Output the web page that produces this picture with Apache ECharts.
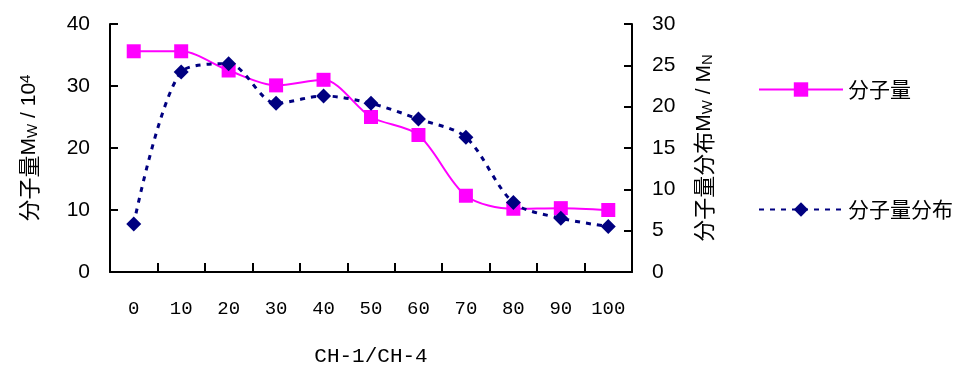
<!DOCTYPE html>
<html><head><meta charset="utf-8">
<script src="https://cdn.jsdelivr.net/npm/echarts@6/dist/echarts.min.js"></script>
<style>html,body{margin:0;padding:0;background:#fff}#c{width:973px;height:372px}</style>
</head><body><div id="c"></div>
<script>
const categories = ['0','10','20','30','40','50','60','70','80','90','100'];
const mwValues = [35.6, 35.6, 32.5, 30.1, 31.0, 25.0, 22.1, 12.3, 10.2, 10.3, 10.0];
const mwdValues = [5.8, 24.2, 25.2, 20.4, 21.3, 20.4, 18.5, 16.3, 8.4, 6.5, 5.5];
const seriesNames = ['分子量', '分子量分布'];
const xName = 'CH-1/CH-4';

const chart = echarts.init(document.getElementById('c'));
const numFont = 'Liberation Sans, Arial, sans-serif';
const cjk = 'Noto Sans CJK SC, sans-serif';
const mono = 'Liberation Mono, DejaVu Sans Mono, monospace';
chart.setOption({
  animation: false,
  backgroundColor: '#fff',
  grid: { left: 110, right: 341, top: 24, bottom: 98 },
  legend: [
    { orient: 'vertical', left: 753, top: 74, itemWidth: 84, itemHeight: 18,
      data: [seriesNames[0]],
      textStyle: { fontSize: 21, color: '#000', fontFamily: cjk } },
    { orient: 'vertical', left: 753, top: 194, itemWidth: 84, itemHeight: 18,
      data: [seriesNames[1]],
      textStyle: { fontSize: 21, color: '#000', fontFamily: cjk } }
  ],
  xAxis: {
    type: 'category', data: categories, boundaryGap: true,
    name: xName, nameLocation: 'middle', nameGap: 74,
    nameTextStyle: { fontSize: 21, color: '#000', fontFamily: mono },
    axisLine: { lineStyle: { color: '#000', width: 2 } },
    axisTick: { show: true, inside: true, length: 9, lineStyle: { color: '#000', width: 2 } },
    axisLabel: { margin: 27, fontSize: 19, color: '#000', fontFamily: mono },
    splitLine: { show: false }
  },
  yAxis: [
    { type: 'value', min: 0, max: 40, interval: 10, position: 'left',
      name: '{c|分子量}{m|M}{s|W}{m| / 10}{p|4}', nameLocation: 'middle', nameGap: 70, nameRotate: 90,
      nameTextStyle: { color: '#000', fontSize: 22, fontFamily: cjk, rich: {
        c: { fontSize: 22, fontFamily: cjk, color: '#000' },
        m: { fontSize: 21, fontFamily: numFont, color: '#000' },
        s: { fontSize: 15, fontFamily: numFont, color: '#000', verticalAlign: 'bottom' },
        p: { fontSize: 15, fontFamily: numFont, color: '#000', verticalAlign: 'top' } } },
      axisLine: { show: true, lineStyle: { color: '#000', width: 2 } },
      axisTick: { show: true, inside: true, length: 8, lineStyle: { color: '#000', width: 2 } },
      axisLabel: { margin: 20, fontSize: 21, color: '#000', fontFamily: numFont },
      splitLine: { show: false } },
    { type: 'value', min: 0, max: 30, interval: 5, position: 'right',
      name: '{c|分子量分布}{m|M}{s|W}{m| / M}{s|N}', nameLocation: 'middle', nameGap: 61, nameRotate: 90,
      nameTextStyle: { color: '#000', fontSize: 22, fontFamily: cjk, rich: {
        c: { fontSize: 22, fontFamily: cjk, color: '#000' },
        m: { fontSize: 21, fontFamily: numFont, color: '#000' },
        s: { fontSize: 15, fontFamily: numFont, color: '#000', verticalAlign: 'bottom' } } },
      axisLine: { show: true, lineStyle: { color: '#000', width: 2 } },
      axisTick: { show: true, inside: true, length: 8, lineStyle: { color: '#000', width: 2 } },
      axisLabel: { margin: 20, fontSize: 21, color: '#000', fontFamily: numFont },
      splitLine: { show: false } }
  ],
  series: [
    { name: seriesNames[0], type: 'line', yAxisIndex: 0, data: mwValues, smooth: 0.3,
      symbol: 'rect', symbolSize: 14,
      itemStyle: { color: '#FF00FF' }, lineStyle: { color: '#FF00FF', width: 2 } },
    { name: seriesNames[1], type: 'line', yAxisIndex: 1, data: mwdValues, smooth: 0.3,
      symbol: 'diamond', symbolSize: 15,
      itemStyle: { color: '#000080' }, lineStyle: { color: '#000080', width: 3, type: [5, 6] } }
  ]
});
</script></body></html>
